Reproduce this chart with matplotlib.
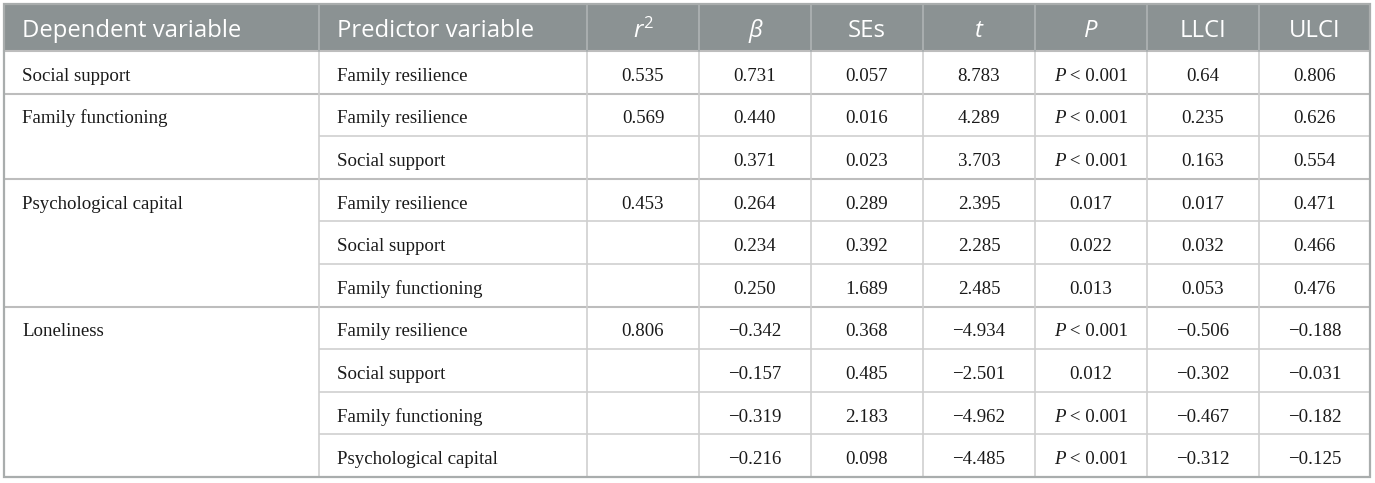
import matplotlib
matplotlib.use("Agg")
import matplotlib.pyplot as plt
from matplotlib.font_manager import FontProperties

# ---------------- data ----------------
headers = ["Dependent variable", "Predictor variable", "r2", "β", "SEs", "t", "P", "LLCI", "ULCI"]
dependent = ["Social support", "Family functioning", "Psychological capital", "Loneliness"]
group_sizes = [1, 2, 3, 4]
r_squared = ["0.535", "0.569", "0.453", "0.806"]
predictors = ["Family resilience", "Family resilience", "Social support",
              "Family resilience", "Social support", "Family functioning",
              "Family resilience", "Social support", "Family functioning",
              "Psychological capital"]
beta = ["0.731", "0.440", "0.371", "0.264", "0.234", "0.250",
        "−0.342", "−0.157", "−0.319", "−0.216"]
ses = ["0.057", "0.016", "0.023", "0.289", "0.392", "1.689",
       "0.368", "0.485", "2.183", "0.098"]
t_vals = ["8.783", "4.289", "3.703", "2.395", "2.285", "2.485",
          "−4.934", "−2.501", "−4.962", "−4.485"]
p_vals = ["P < 0.001", "P < 0.001", "P < 0.001", "0.017", "0.022", "0.013",
          "P < 0.001", "0.012", "P < 0.001", "P < 0.001"]
llci = ["0.64", "0.235", "0.163", "0.017", "0.032", "0.053",
        "−0.506", "−0.302", "−0.467", "−0.312"]
ulci = ["0.806", "0.626", "0.554", "0.471", "0.466", "0.476",
        "−0.188", "−0.031", "−0.182", "−0.125"]

# ---------------- layout ----------------
W, H = 1375, 483
col_edges = [4, 319, 587, 699, 811, 923, 1035, 1147, 1259, 1370]
top, header_bottom, bottom = 4, 51, 477
n_rows = len(predictors)
row_h = (bottom - header_bottom) / n_rows

HEADER_BG = "#8b9293"
INNER_LINE = "#cfcfcf"
GROUP_LINE = "#bdbdbd"
BORDER = "#a9adad"
TEXT = "#1a1a1a"

fig = plt.figure(figsize=(W / 100, H / 100), dpi=100)
ax = fig.add_axes([0, 0, 1, 1])
ax.set_xlim(0, W)
ax.set_ylim(H, 0)
ax.axis("off")

HF = ["Open Sans", "DejaVu Sans"]
head_fp = FontProperties(family=HF, size=17.2)
head_fp_it = FontProperties(family=HF, size=17.2, style="italic")
head_fp_sup = FontProperties(family=HF, size=12)
body_fp = FontProperties(family=["Liberation Serif", "DejaVu Serif"], size=13.6)
body_fp_it = FontProperties(family=["Liberation Serif", "DejaVu Serif"], size=13.6, style="italic")

# header background
ax.add_patch(plt.Rectangle((col_edges[0], top), col_edges[-1] - col_edges[0], header_bottom - top,
                           facecolor=HEADER_BG, edgecolor="none", zorder=0))

renderer = fig.canvas.get_renderer()


def seg_width(s, fp):
    t = ax.text(0, 0, s, fontproperties=fp)
    bb = t.get_window_extent(renderer=renderer)
    t.remove()
    return bb.width


def draw_segments(cx, baseline, segs, color):
    # segs: list of (text, fontprops, dy)
    widths = [seg_width(s, fp) for s, fp, dy in segs]
    x = cx - sum(widths) / 2
    for (s, fp, dy), w in zip(segs, widths):
        ax.text(x, baseline + dy, s, fontproperties=fp, color=color,
                ha="left", va="baseline", zorder=3)
        x += w


# header text
head_base = top + 33.3
pad = 18
for j, h in enumerate(headers):
    x0, x1 = col_edges[j], col_edges[j + 1]
    if j < 2:
        ax.text(x0 + pad, head_base, h, fontproperties=head_fp, color="white",
                ha="left", va="baseline", zorder=3)
    elif h == "r2":
        draw_segments((x0 + x1) / 2, head_base,
                      [("r", head_fp_it, 0), ("2", head_fp_sup, -9)], "white")
    elif h in ("β", "t", "P"):
        draw_segments((x0 + x1) / 2, head_base, [(h, head_fp_it, 0)], "white")
    else:
        draw_segments((x0 + x1) / 2, head_base, [(h, head_fp, 0)], "white")

# body text
numeric_cols = [beta, ses, t_vals, p_vals, llci, ulci]
row_tops = [header_bottom + i * row_h for i in range(n_rows)]
base_off = 29.8

start = 0
group_starts = []
for g, size in enumerate(group_sizes):
    group_starts.append(start)
    yb = row_tops[start] + base_off
    ax.text(col_edges[0] + pad, yb, dependent[g], fontproperties=body_fp, color=TEXT,
            ha="left", va="baseline", zorder=3)
    draw_segments((col_edges[2] + col_edges[3]) / 2, yb, [(r_squared[g], body_fp, 0)], TEXT)
    start += size

for i in range(n_rows):
    yb = row_tops[i] + base_off
    ax.text(col_edges[1] + pad, yb, predictors[i], fontproperties=body_fp, color=TEXT,
            ha="left", va="baseline", zorder=3)
    for k, col in enumerate(numeric_cols):
        j = k + 3
        cx = (col_edges[j] + col_edges[j + 1]) / 2
        val = col[i]
        if val.startswith("P "):
            draw_segments(cx, yb, [("P", body_fp_it, 0), (val[1:], body_fp, 0)], TEXT)
        else:
            draw_segments(cx, yb, [(val, body_fp, 0)], TEXT)

# horizontal lines
for i in range(1, n_rows):
    y = row_tops[i]
    if i in group_starts:
        ax.plot([col_edges[0], col_edges[-1]], [y, y], color=GROUP_LINE, lw=1.5, zorder=2,
                solid_capstyle="butt")
    else:
        ax.plot([col_edges[1], col_edges[-1]], [y, y], color=INNER_LINE, lw=1.2, zorder=2,
                solid_capstyle="butt")
ax.plot([col_edges[0], col_edges[-1]], [header_bottom, header_bottom], color=GROUP_LINE,
        lw=1.5, zorder=2)

# vertical lines
for x in col_edges[1:-1]:
    ax.plot([x, x], [top, bottom], color=INNER_LINE, lw=1.2, zorder=2)
    ax.plot([x, x], [top, header_bottom], color="#a3a9aa", lw=1.2, zorder=2)

# outer border
ax.add_patch(plt.Rectangle((col_edges[0], top), col_edges[-1] - col_edges[0], bottom - top,
                           facecolor="none", edgecolor=BORDER, lw=1.6, zorder=4))

fig.savefig("out.png", dpi=100, facecolor="white")
